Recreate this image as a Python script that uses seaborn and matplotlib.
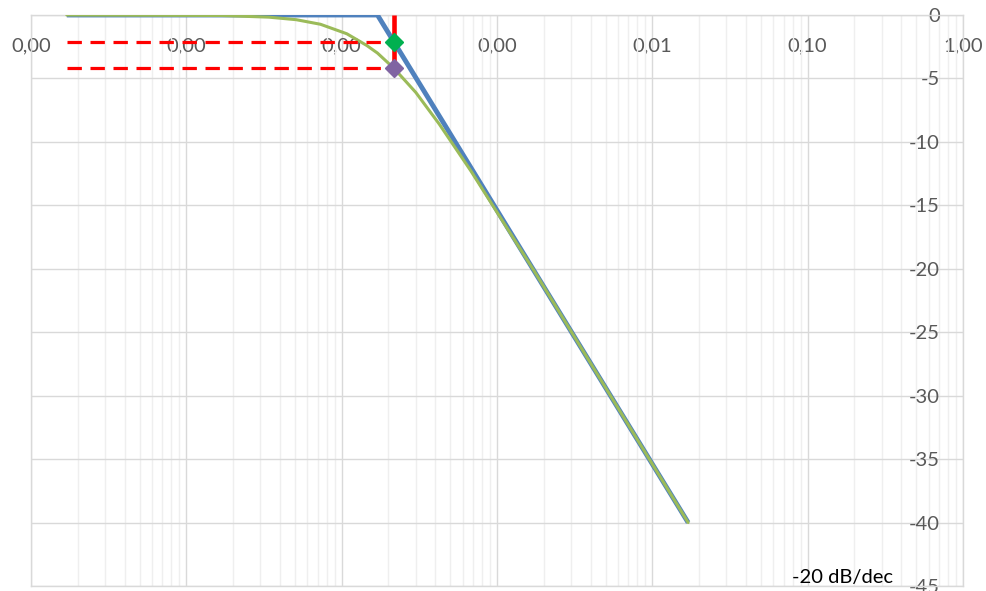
import matplotlib
matplotlib.use("Agg")
import matplotlib.pyplot as plt
import matplotlib.ticker as mticker
import numpy as np
import pandas as pd
import seaborn as sns

# Straight-line (asymptotic) magnitude response
asym_freq = [1.7e-6, 1.7e-4, 1.7e-2]
asym_db = [0.0, 0.0, -40.0]

# Actual magnitude response of the first-order low-pass
real_freq = [1.7e-6, 1.7e-5, 3.4e-5, 5.1e-5, 7.3e-5, 1.08e-4, 1.45e-4, 1.7e-4,
             2.17e-4, 3.0e-4, 4.25e-4, 6.8e-4, 1.7e-3, 1.7e-2]
real_db = [0.0, -0.04, -0.17, -0.37, -0.73, -1.48, -2.4, -3.0,
           -4.2, -6.1, -8.6, -12.3, -20.0, -40.0]

mark_freq = 2.17e-4
mark_asym_db = -2.12
mark_real_db = -4.2
guide_start = 1.7e-6

x_ticks = [1e-6, 1e-5, 1e-4, 1e-3, 1e-2, 1e-1, 1.0]
x_labels = ["0,00", "0,00", "0,00", "0,00", "0,01", "0,10", "1,00"]
y_ticks = [0, -5, -10, -15, -20, -25, -30, -35, -40, -45]
y_labels = [str(v) for v in y_ticks]
slope_text = "-20 dB/dec"

sns.set_theme(style="white")
plt.rcParams["font.family"] = ["Lato", "DejaVu Sans"]

W, H = 987, 591
fig = plt.figure(figsize=(W / 100, H / 100), dpi=100)
ax = fig.add_axes([31 / W, 1 - 586 / H, (963 - 31) / W, (586 - 15) / H])

asym = pd.DataFrame({"f": asym_freq, "dB": asym_db})
real = pd.DataFrame({"f": real_freq, "dB": real_db})

blue = "#4F81BD"
green = "#9BBB59"
red = "#FF0000"

sns.lineplot(data=asym, x="f", y="dB", ax=ax, color=blue, linewidth=3.5,
             solid_capstyle="butt", zorder=3)
sns.lineplot(data=real, x="f", y="dB", ax=ax, color=green, linewidth=2.2,
             zorder=4)

# Guide lines to the marked frequency
dash = (4.5, 2.7)
ax.plot([guide_start, mark_freq], [mark_asym_db, mark_asym_db], color=red,
        linewidth=2.3, dashes=dash, zorder=5)
ax.plot([guide_start, mark_freq], [mark_real_db, mark_real_db], color=red,
        linewidth=2.3, dashes=dash, zorder=5)
ax.plot([mark_freq, mark_freq], [0, mark_real_db], color=red, linewidth=3.3,
        zorder=5, solid_capstyle="butt")

ax.plot([mark_freq], [mark_asym_db], marker="D", markersize=9,
        color="#00B050", linestyle="none", zorder=6)
ax.plot([mark_freq], [mark_real_db], marker="D", markersize=9,
        color="#8064A2", linestyle="none", zorder=6)

ax.set_xscale("log")
ax.set_xlim(1e-6, 1.0)
ax.set_ylim(-45, 0)

ax.xaxis.set_major_locator(mticker.FixedLocator(x_ticks))
ax.xaxis.set_major_formatter(mticker.FixedFormatter(x_labels))
ax.xaxis.set_minor_locator(mticker.LogLocator(base=10, subs=np.arange(2, 10)))
ax.xaxis.set_minor_formatter(mticker.NullFormatter())
ax.set_yticks(y_ticks)
ax.set_yticklabels(y_labels)

ax.grid(True, which="major", axis="both", color="#D9D9D9", linewidth=1.0)
ax.grid(True, which="minor", axis="x", color="#EFEFEF", linewidth=1.0)
ax.set_axisbelow(True)

for side in ["left", "right", "top", "bottom"]:
    ax.spines[side].set_color("#D9D9D9")
    ax.spines[side].set_linewidth(1.0)

label_color = "#595959"
ax.xaxis.set_ticks_position("top")
ax.tick_params(axis="x", which="both", length=0, top=False, bottom=False,
               labeltop=True, labelbottom=False, pad=-28,
               labelsize=14.5, labelcolor=label_color)
ax.tick_params(axis="y", which="both", length=0, left=False, right=False,
               labelleft=False, labelright=True, pad=-16.5,
               labelsize=14.5, labelcolor=label_color)
for lab in ax.get_yticklabels():
    lab.set_horizontalalignment("right")

ax.set_xlabel("")
ax.set_ylabel("")

ax.text(0.167, -44.3, slope_text, ha="center", va="center", fontsize=14.5,
        color="black", zorder=7)

fig.savefig("out.png", dpi=100)
